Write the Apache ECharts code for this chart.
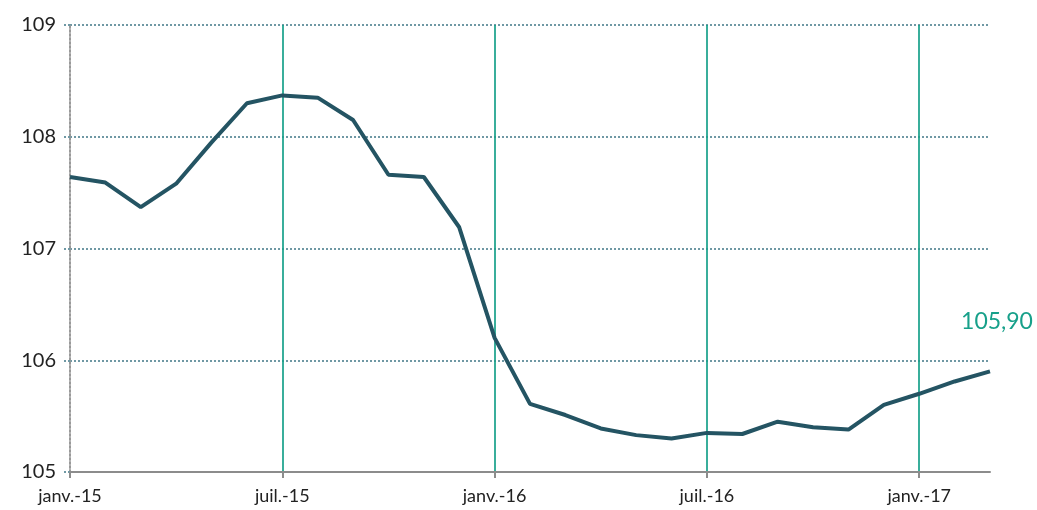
<!DOCTYPE html>
<html><head><meta charset="utf-8">
<script src="https://cdn.jsdelivr.net/npm/echarts@6/dist/echarts.min.js"></script>
<style>html,body{margin:0;padding:0;background:#fff}#c{width:1037px;height:510px}</style>
</head><body><div id="c"></div>
<script>
const categories = ["janv.-15","févr.-15","mars-15","avr.-15","mai-15","juin-15","juil.-15","août-15","sept.-15","oct.-15","nov.-15","déc.-15",
  "janv.-16","févr.-16","mars-16","avr.-16","mai-16","juin-16","juil.-16","août-16","sept.-16","oct.-16","nov.-16","déc.-16",
  "janv.-17","févr.-17","mars-17"];
const values = [107.64,107.59,107.37,107.58,107.95,108.30,108.37,108.35,108.15,107.66,107.64,107.19,
  106.20,105.61,105.51,105.39,105.33,105.30,105.35,105.34,105.45,105.40,105.38,105.60,105.70,105.81,105.90];
const yTicks = [105,106,107,108,109];
const lastLabel = "105,90";

const teal = '#17a08a';
const lineColor = '#245463';
const font = 'Lato, "Open Sans", sans-serif';
const lastIdx = values.length-1;
const chart = echarts.init(document.getElementById('c'));
chart.setOption({
  animation:false,
  grid:{left:70,right:47,top:25,bottom:38,containLabel:false},
  xAxis:{type:'category',data:categories,boundaryGap:false,
    axisLine:{lineStyle:{color:'#8c8c8c',width:2}},
    axisTick:{show:true,length:6,interval:(i)=>i%6===0,lineStyle:{color:'#8c8c8c',width:2}},
    axisLabel:{interval:(i)=>i%6===0,color:'#222',fontSize:18,fontFamily:font,margin:15},
    splitLine:{show:true,interval:(i)=>i%6===0&&i>0,lineStyle:{color:teal,width:1.7}}
  },
  yAxis:{type:'value',min:yTicks[0],max:yTicks[yTicks.length-1],interval:1,
    axisLine:{show:true,lineStyle:{color:'#999',type:'dotted',width:2}},
    axisTick:{show:true,length:8,lineStyle:{color:'#6f98a4',type:'dotted',width:2}},
    axisLabel:{color:'#222',fontSize:20,fontFamily:font,margin:14,formatter:v=>String(v)},
    splitLine:{show:true,lineStyle:{color:'#6f98a4',type:'dotted',width:2}}
  },
  series:[{type:'line',data:values,symbol:'none',lineStyle:{color:lineColor,width:4},z:5,
    markPoint:{symbol:'circle',symbolSize:1,itemStyle:{color:'rgba(0,0,0,0)'},
      data:[{coord:[lastIdx,values[lastIdx]],
        label:{show:true,position:'top',distance:0,offset:[7,-38],formatter:lastLabel,color:teal,fontSize:23,fontFamily:font}}]}
  }]
});
</script></body></html>
